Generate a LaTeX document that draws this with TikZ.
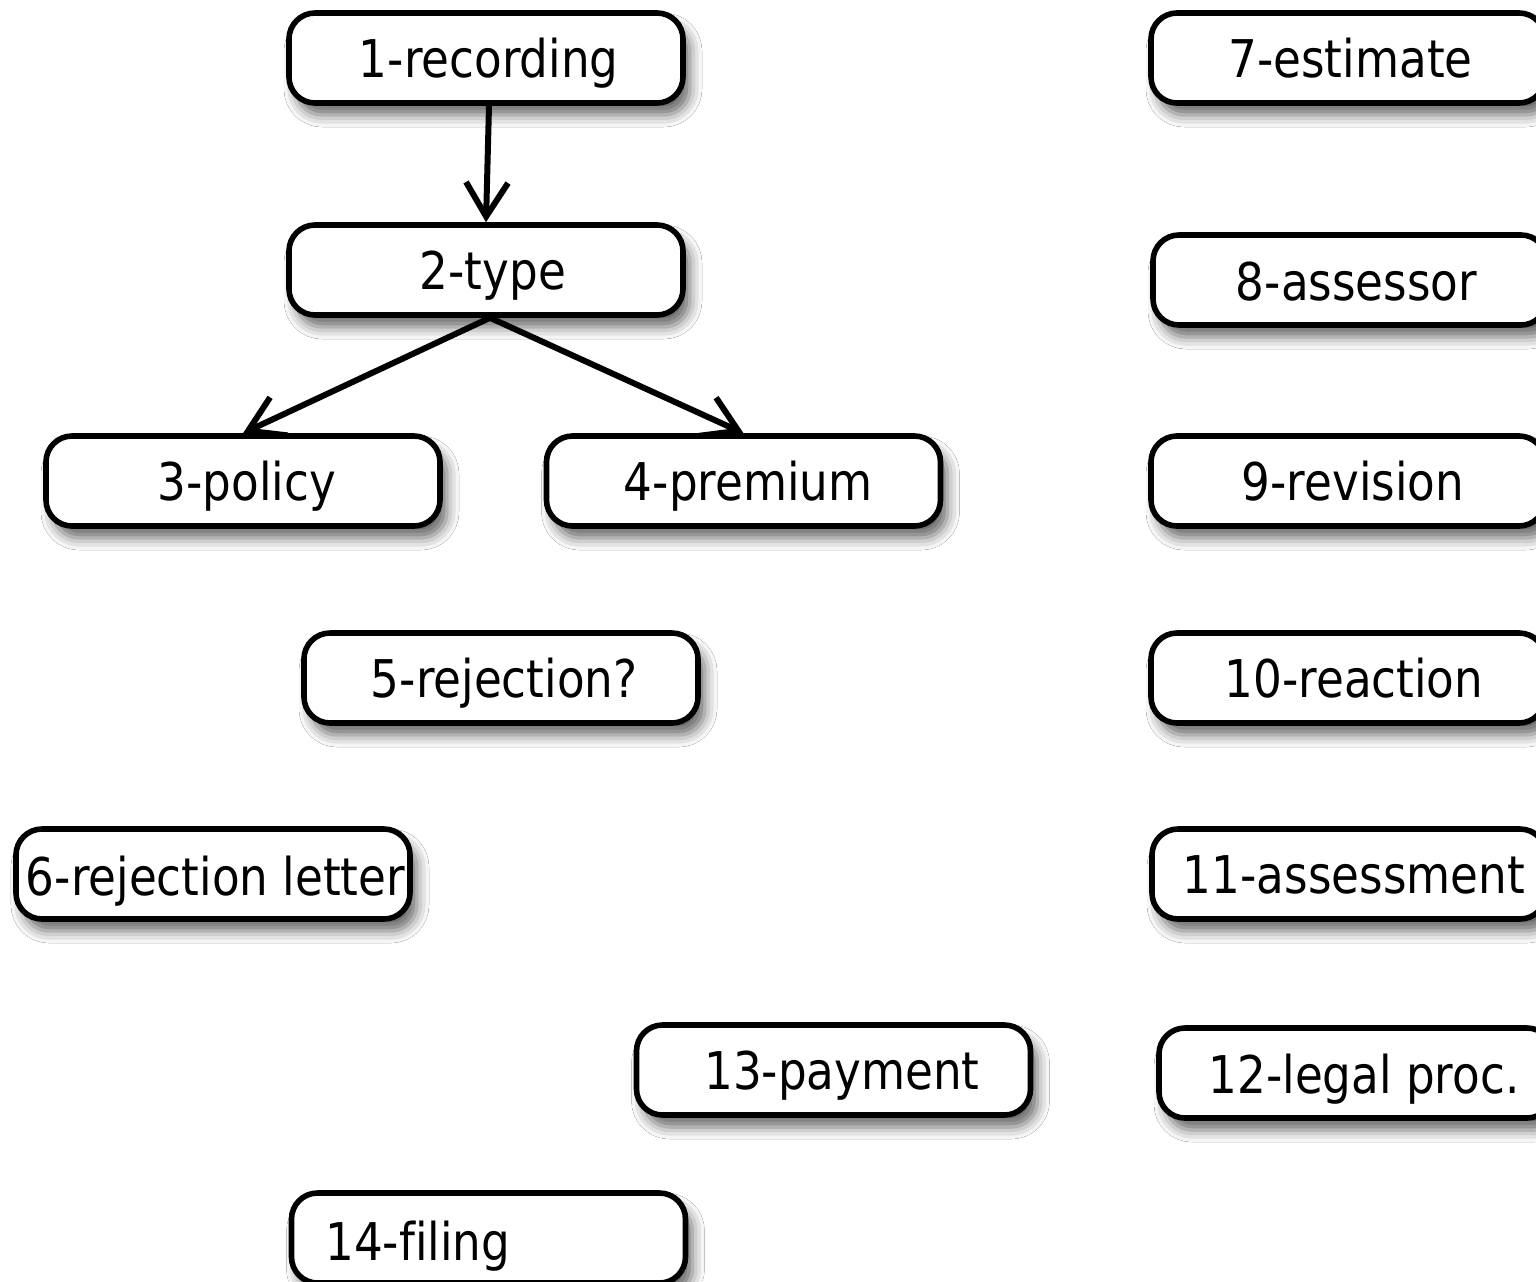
\documentclass[tikz,border=0pt]{standalone}
\usepackage{fontspec}
\setmainfont{DejaVu Sans}[FakeStretch=0.87,Ligatures=NoCommon]
\usetikzlibrary{arrows.meta,shadows.blur}
\begin{document}
\begin{tikzpicture}[x=0.5pt,y=-0.5pt,
  box/.style={draw, line width=2.8pt, rounded corners=13pt,
    minimum width=197pt, minimum height=45pt, fill=white, inner sep=0pt,
    blur shadow={shadow xshift=3.5pt, shadow yshift=-6pt,
      shadow blur radius=6pt, shadow opacity=60}},
  lbl/.style={font=\fontsize{26}{30}\selectfont, inner sep=0pt, anchor=base},
  arr/.style={line width=3pt, -{Straight Barb[length=17pt,width=21pt]}}]
\useasboundingbox (0,0) rectangle (1536,1281);
\clip (0,0) rectangle (1536,1281);
\fill[white] (0,0) rectangle (1536,1281);

% boxes
\node[box] (n1)  at (486,58)    {};
\node[box] (n2)  at (486,270)   {};
\node[box] (n3)  at (243,481)   {};
\node[box] (n4)  at (743.5,481) {};
\node[box] (n5)  at (501,678)   {};
\node[box] (n6)  at (213,874)   {};
\node[box] (n7)  at (1348,58)   {};
\node[box] (n8)  at (1350,280)  {};
\node[box] (n9)  at (1348,481)  {};
\node[box] (n10) at (1348,678)  {};
\node[box] (n11) at (1349,874)  {};
\node[box] (n12) at (1356,1073) {};
\node[box] (n13) at (833.5,1070){};
\node[box] (n14) at (488.5,1238){};

% labels
\node[lbl] (t1)  at (488.7,77)  {1-recording};
\node[lbl] (t2)  at (492.8,289) {2-type};
\node[lbl] (t3)  at (246.8,500) {3-policy};
\node[lbl] (t4)  at (748.3,500) {4-premium};
\node[lbl] (t5)  at (504.2,697) {5-rejection?};
\node[lbl] (t6)  at (215.5,895) {6-rejection letter};
\node[lbl] (t7)  at (1350.5,77) {7-estimate};
\node[lbl] (t8)  at (1356.5,300){8-assessor};
\node[lbl] (t9)  at (1353,500)  {9-revision};
\node[lbl] (t10) at (1354,697)  {10-reaction};
\node[lbl] (t11) at (1354,893)  {11-assessment};
\node[lbl] (t12) at (1364,1093) {12-legal proc.};
\node[lbl] (t13) at (842,1089)  {13-payment};
\node[lbl, anchor=base west] (t14) at (325,1260) {14-filing};

% connectors
\draw[arr] ([xshift=1.5pt]n1.south) -- (n2.north);
\draw[arr] ([xshift=2pt]n2.south) -- (n3.north);
\draw[arr] ([xshift=2pt]n2.south) -- (n4.north);
\end{tikzpicture}
\end{document}
